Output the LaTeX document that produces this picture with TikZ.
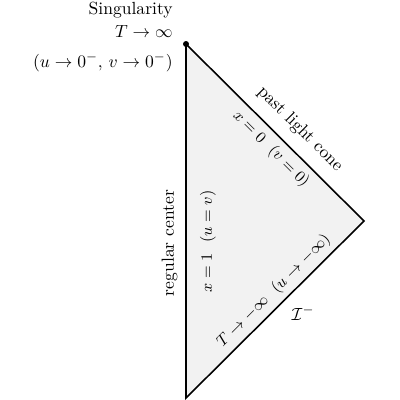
\documentclass[tikz,border=0pt]{standalone}
\usepackage{amsmath}
\begin{document}
\begin{tikzpicture}[x=0.02cm,y=-0.02cm,
  edge/.style={line width=0.9pt, line join=miter},
  lbl/.style={inner sep=0pt},
  inlbl/.style={inner sep=0pt, font=\small}]
\useasboundingbox (0,0) rectangle (400,400);
\coordinate (A) at (186,44);
\coordinate (B) at (364,221);
\coordinate (C) at (186,398);
\fill[black!5] (A) -- (B) -- (C) -- cycle;
\draw[edge] (A) -- (B) -- (C) -- cycle;
\fill (A) circle[radius=1.7pt];
\node[lbl, anchor=base east] (sing) at (173,14) {Singularity};
\node[lbl, anchor=base east] (tinf) at (173,37) {$T\to\infty$};
\node[lbl, anchor=base east] (uv) at (173,67) {$(u\to 0^-,\, v\to 0^-)$};
\node[lbl, rotate=-45] (plc) at (300,129) {past light cone};
\node[inlbl, rotate=-45] (x0) at (271,149) {$x=0\ \ (v=0)$};
\node[lbl, rotate=90] (rc) at (169.5,243) {regular center};
\node[inlbl, rotate=90] (x1) at (208,241.5) {$x=1\ \ (u=v)$};
\node[inlbl, rotate=45] (tm) at (274,291) {$T\to-\infty\ \ (u\to-\infty)$};
\node[lbl] (scri) at (303,313) {$\mathcal{I}^-$};
\end{tikzpicture}
\end{document}
